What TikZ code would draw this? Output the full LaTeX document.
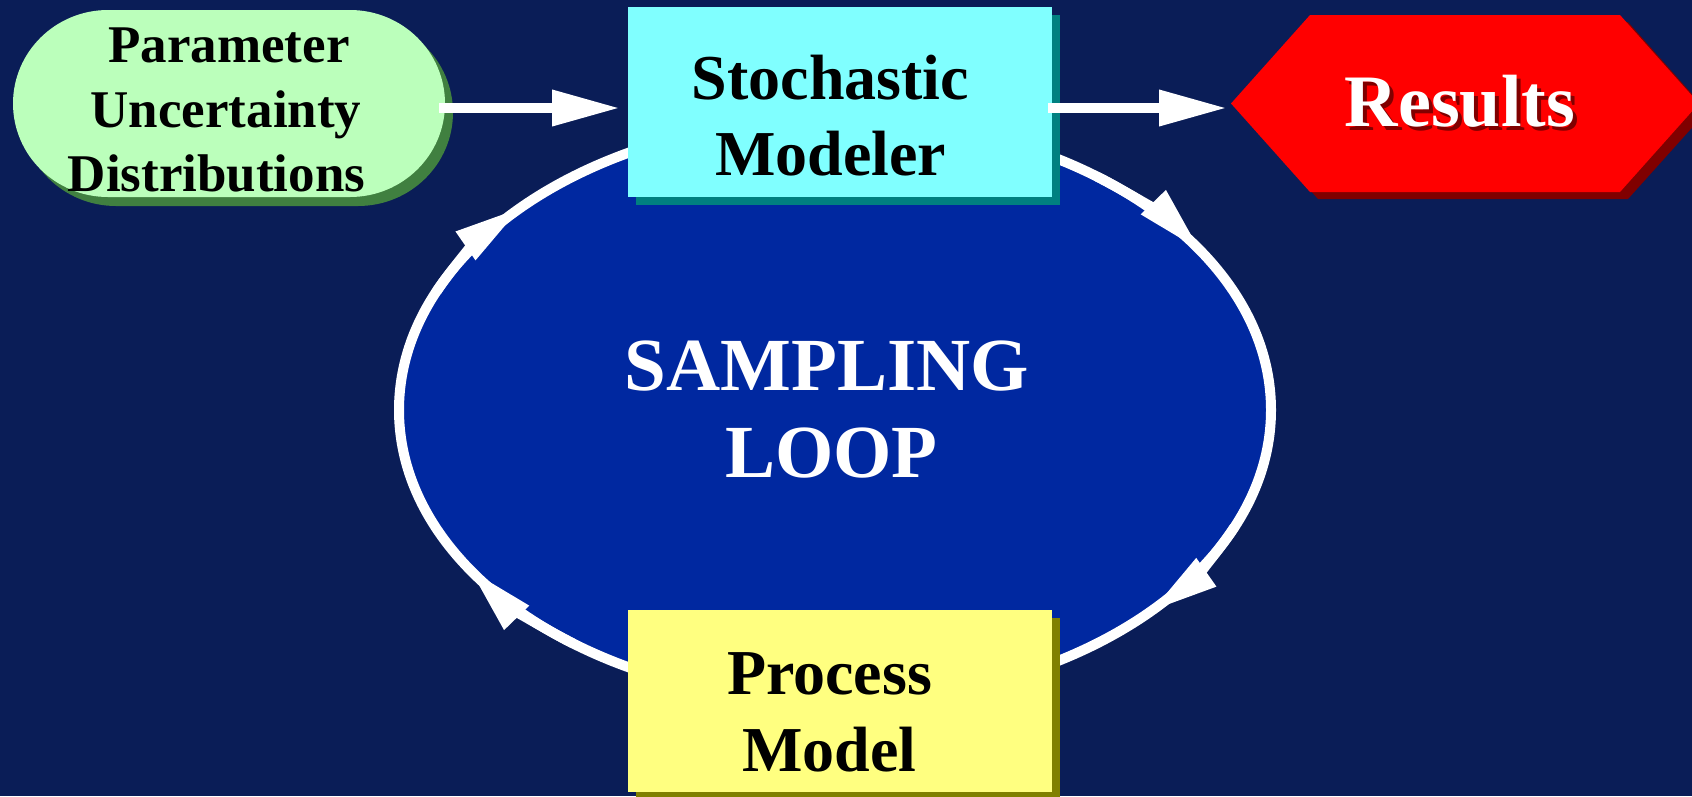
\documentclass[tikz,border=0pt]{standalone}
\usepackage{fontspec}
\setmainfont{Liberation Serif}
\usetikzlibrary{arrows.meta,shapes.geometric,shadows}

\definecolor{navy}{RGB}{10,29,87}
\definecolor{loopblue}{RGB}{0,40,160}
\definecolor{mint}{RGB}{187,255,187}
\definecolor{mintshade}{RGB}{64,128,64}
\definecolor{aqua}{RGB}{128,255,255}
\definecolor{aquashade}{RGB}{0,128,128}
\definecolor{paleyellow}{RGB}{255,255,128}
\definecolor{yellowshade}{RGB}{128,128,0}
\definecolor{hexred}{RGB}{255,0,0}
\definecolor{hexshade}{RGB}{128,0,0}

% white lettering with a dark red drop shadow
\newcommand\shadowtext[1]{%
  \rlap{\kern4pt\raisebox{-4pt}{\color{hexshade}#1}}{\color{white}#1}}

\begin{document}
\begin{tikzpicture}[x=1pt,y=-1pt,
  every node/.style={inner sep=0pt, outer sep=0pt},
  flow/.style={white, line width=10pt, -{Triangle[length=68pt,width=34pt]}},
  loophead/.style={white, line width=10pt, -{Triangle[length=68pt,width=32pt]}},
  box/.style={rectangle, minimum width=424pt, align=center,
    font=\bfseries\fontsize{64}{76}\selectfont},
  boxshadow/.style={drop shadow={shadow xshift=8pt, shadow yshift=-8pt,
    fill=#1, opacity=1}},
]
% canvas
\fill[navy] (0,0) rectangle (1692,796);
\useasboundingbox (0,0) rectangle (1692,796);

% sampling loop
\node[ellipse, draw=white, line width=10pt, fill=loopblue,
      minimum width=872pt, minimum height=584pt, text=white, align=center,
      font=\bfseries\fontsize{75}{87}\selectfont]
  (loop) at (835,410) {SAMPLING\kern16pt\\LOOP\kern7pt};

% direction marks along the loop (clockwise)
\foreach \a/\b in {156/136, 53/33, -23.6/-43.6, -127/-147}
  \draw[loophead] (loop.center) ++(\a:436pt and 292pt)
    arc[start angle=\a, end angle=\b, x radius=436pt, y radius=292pt];

% stochastic modeler and process model
\node[box, fill=aqua, minimum height=190pt, boxshadow=aquashade]
  (sm) at (840,102) {\rule{0pt}{72pt}Stochastic\kern19pt\\Modeler\kern19pt};
\node[box, fill=paleyellow, minimum height=182pt, boxshadow=yellowshade,
      font=\bfseries\fontsize{64}{77}\selectfont]
  (pm) at (840,701) {\rule{0pt}{65pt}Process\kern21pt\\Model\kern21pt};

% parameter distributions (rounded capsule)
\fill[mintshade] (116,19) -- (358,19)
  arc[start angle=90, end angle=-90, x radius=95pt, y radius=93.5pt]
  -- (116,206)
  arc[start angle=270, end angle=90, x radius=95pt, y radius=93.5pt] -- cycle;
\fill[mint] (108,10) -- (350,10)
  arc[start angle=90, end angle=-90, x radius=95pt, y radius=93.5pt]
  -- (108,197)
  arc[start angle=270, end angle=90, x radius=95pt, y radius=93.5pt] -- cycle;
\node[minimum width=432pt, minimum height=187pt, align=center,
      font=\bfseries\fontsize{53}{64.5}\selectfont]
  (pud) at (229,103.5)
  {\rule{0pt}{48pt}Parameter\\Uncertainty\kern6pt\\Distributions\kern25pt};

% results (hexagon)
\fill[hexshade] (1239,111) -- (1318,22) -- (1628,22) -- (1707,111)
  -- (1628,199) -- (1318,199) -- cycle;
\fill[hexred] (1231,103.5) -- (1310,15) -- (1620,15) -- (1699,103.5)
  -- (1620,192) -- (1310,192) -- cycle;
\node[minimum width=468pt, minimum height=177pt,
      font=\bfseries\fontsize{74}{80}\selectfont]
  (res) at (1465,103.5) {\shadowtext{Results}\kern10pt};

% flow arrows
\draw[flow] ([xshift=-6pt,yshift=-4.5pt]pud.east)
  -- ([xshift=-8pt,yshift=-4.5pt]pud.east -| sm.west);
\draw[flow] ([xshift=-4pt,yshift=-6pt]sm.east)
  -- ([xshift=-4pt,yshift=-6pt]sm.east -| res.west);
\end{tikzpicture}
\end{document}
